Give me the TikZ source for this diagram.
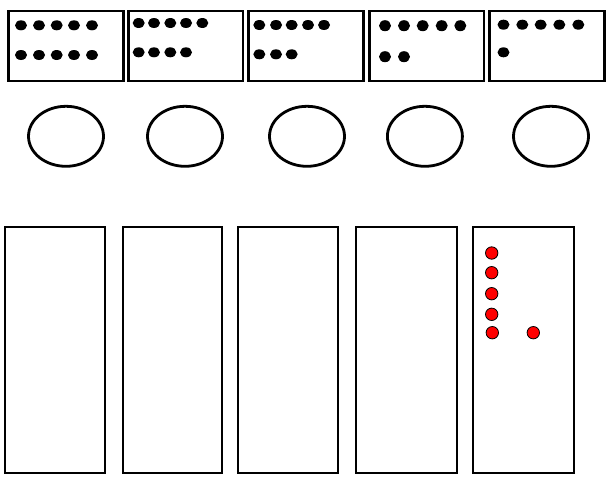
\documentclass[tikz,border=0pt]{standalone}
\begin{document}
\begin{tikzpicture}[x=1pt,y=-1pt,
  card/.style={draw=black,line width=2.4pt},
  ring/.style={draw=black,line width=2.8pt},
  tall/.style={draw=black,line width=2pt},
  bdot/.style={fill=black,draw=none},
  rdot/.style={fill=red,draw=black,line width=0.8pt}]
\useasboundingbox (0,0) rectangle (612,479);
% top cards
\draw[card] (8.3,10.8) rectangle (123.3,80.7);
\draw[card] (128.3,10.8) rectangle (243,80.7);
\draw[card] (248.3,10.8) rectangle (363.3,80.7);
\draw[card] (369.3,10.8) rectangle (484,80.7);
\draw[card] (489.3,10.8) rectangle (604.3,80.7);
% dots card 1
\foreach \x in {21,39,56.7,74,92}{
  \fill[bdot] (\x,25.3) ellipse (6pt and 5pt);
  \fill[bdot] (\x,55) ellipse (6pt and 5pt);}
% card 2
\foreach \x in {138.7,154,170.3,186,202.3}{\fill[bdot] (\x,23) ellipse (6pt and 5pt);}
\foreach \x in {138.7,154,170.3,186}{\fill[bdot] (\x,52.3) ellipse (6pt and 5pt);}
% card 3
\foreach \x in {259.3,276,291.7,308,324}{\fill[bdot] (\x,25) ellipse (6pt and 5pt);}
\foreach \x in {259.3,276,291.7}{\fill[bdot] (\x,54.3) ellipse (6pt and 5pt);}
% card 4
\foreach \x in {385,404,422.7,441.7,460.3}{\fill[bdot] (\x,25.7) ellipse (6pt and 5.5pt);}
\foreach \x in {385,404}{\fill[bdot] (\x,56.7) ellipse (6pt and 5.5pt);}
% card 5
\foreach \x in {503.5,522.3,540.7,559.3,578.3}{\fill[bdot] (\x,24.7) ellipse (6pt and 5pt);}
\fill[bdot] (503.5,52.3) ellipse (6pt and 5pt);
% ellipses
\draw[ring] (66,136.3) ellipse (37.5pt and 30pt);
\draw[ring] (185,136.3) ellipse (37.5pt and 30pt);
\draw[ring] (307,136.3) ellipse (37.5pt and 30pt);
\draw[ring] (424.9,136.3) ellipse (37.5pt and 30pt);
\draw[ring] (551,136.3) ellipse (37.5pt and 30pt);
% tall rectangles
\draw[tall] (4.6,227.3) rectangle (105.3,472.5);
\draw[tall] (122.7,227.3) rectangle (222,472.5);
\draw[tall] (237.5,227.3) rectangle (338.3,472.5);
\draw[tall] (356,227.3) rectangle (456.5,472.5);
\draw[tall] (472.8,227.3) rectangle (573.5,472.5);
% red dots
\foreach \y in {253,272.7,293.7,314.3}{\filldraw[rdot] (491.7,\y) circle (6.2pt);}
\filldraw[rdot] (492.3,332.7) circle (6.2pt);
\filldraw[rdot] (533.3,332.7) circle (6.2pt);
\end{tikzpicture}
\end{document}
